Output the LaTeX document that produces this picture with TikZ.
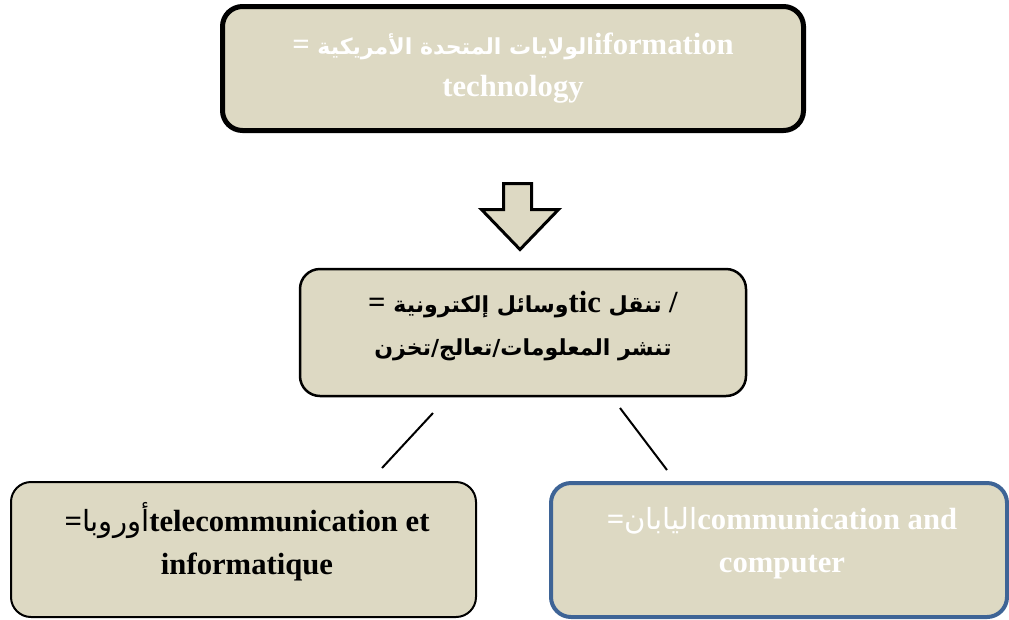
\documentclass[tikz,border=0pt]{standalone}
\usepackage{fontspec}
\setmainfont{Liberation Serif}
\newfontfamily\arabicfont[Script=Arabic,Scale=0.72]{DejaVu Sans}
\newfontfamily\arabiclight[Script=Arabic,Scale=0.95]{DejaVu Sans}
\TeXXeTstate=1
\usepackage{tikz}
\usetikzlibrary{positioning}

\definecolor{boxfill}{HTML}{DDD9C3}
\definecolor{boxblue}{HTML}{3E6496}
\newdimen\px \px=0.75pt
\newcommand{\ar}[1]{{\arabicfont\beginR #1\endR}}
\newcommand{\arl}[1]{{\arabiclight\mdseries\beginR #1\endR}}

\tikzset{
	box/.style={draw=black, fill=boxfill, rounded corners=20\px, line width=2\px},
	boxtext/.style={font=\fontsize{23}{32}\selectfont\bfseries, align=center, inner sep=0pt},
}

\begin{document}
\begin{tikzpicture}[x=0.75pt, y=-0.75pt]
	\useasboundingbox (0,0) rectangle (1009,619);
	% the four boxes
	\node[box, line width=5\px, minimum width=581\px, minimum height=124\px] (usa) at (513,68.5) {};
	\node[box, line width=2.5\px, minimum width=446\px, minimum height=127\px] (tic) at (523,332.5) {};
	\node[box, minimum width=465\px, minimum height=135\px] (europe) at (243.5,549.5) {};
	\node[box, draw=boxblue, line width=4\px, minimum width=456\px, minimum height=134\px] (japan) at (779,550) {};
	% their texts
	\node[boxtext, text=white] (usatext) at (513,68) {= \ar{الولايات المتحدة الأمريكية}iformation\\technology};
	\node[boxtext] (tictext) at (523,326) {= \ar{وسائل إلكترونية}tic \ar{تنقل} /\\\ar{تنشر المعلومات/تعالج/تخزن}};
	\node[boxtext] (europetext) at (247,542) {=\arl{أوروبا}telecommunication et\\informatique};
	\node[boxtext, text=white] (japantext) at (782,543) {=\arl{اليابان}communication and\\computer};
	% hollow arrow
	\draw[line width=3\px, fill=boxfill] (503.5,183.5) -- (531.5,183.5) -- (531.5,209.5) -- (558.5,209.5)
		-- (520,249.5) -- (481.5,209.5) -- (503.5,209.5) -- cycle;
	% the two strokes
	\coordinate (leftup) at (433,413);
	\coordinate (leftdown) at (382,468);
	\coordinate (rightup) at (620,408);
	\coordinate (rightdown) at (667,470);
	\draw[line width=2\px] (leftup) -- (leftdown);
	\draw[line width=2\px] (rightup) -- (rightdown);
\end{tikzpicture}
\end{document}
